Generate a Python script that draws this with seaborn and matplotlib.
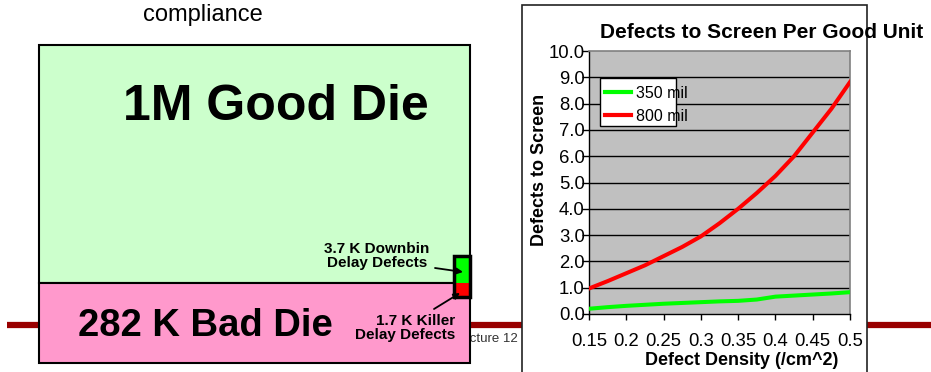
import numpy as np
import pandas as pd
import matplotlib
matplotlib.use("Agg")
import matplotlib.pyplot as plt
from matplotlib.patches import Rectangle
import seaborn as sns

# Defect density sweep and defects to screen per good unit, by die size
density = [0.15, 0.175, 0.2, 0.225, 0.25, 0.275, 0.3, 0.325, 0.35,
           0.375, 0.4, 0.425, 0.45, 0.475, 0.5]
d350 = [0.20, 0.26, 0.31, 0.35, 0.39, 0.42, 0.45, 0.48, 0.50,
        0.55, 0.66, 0.70, 0.74, 0.78, 0.83]
d800 = [0.97, 1.25, 1.55, 1.85, 2.20, 2.55, 2.95, 3.45, 4.00,
        4.60, 5.25, 6.00, 6.90, 7.80, 8.82]
series = ["350 mil", "800 mil"]
yticks = [0.0, 1.0, 2.0, 3.0, 4.0, 5.0, 6.0, 7.0, 8.0, 9.0, 10.0]
xticks = [0.15, 0.2, 0.25, 0.3, 0.35, 0.4, 0.45, 0.5]
xtick_labels = ["0.15", "0.2", "0.25", "0.3", "0.35", "0.4", "0.45", "0.5"]

plt.rcParams["font.family"] = ["Liberation Sans", "DejaVu Sans"]

W, H = 931, 372
fig = plt.figure(figsize=(W / 100, H / 100), dpi=100)
fig.patch.set_facecolor("white")

# Slide layer in pixel coordinates
bg = fig.add_axes([0, 0, 1, 1], zorder=0)
bg.set_xlim(0, W)
bg.set_ylim(H, 0)
bg.axis("off")

bg.plot([7, W], [325, 325], color="#990000", lw=4.5, solid_capstyle="butt", zorder=1)
bg.text(518, 339, "Lecture 12", ha="right", va="center", fontsize=9.5,
        color="#333333", zorder=1)

bg.add_patch(Rectangle((39, 45), 431, 238, fc="#CCFFCC", ec="black", lw=1.5, zorder=2))
bg.add_patch(Rectangle((39, 283), 431, 80, fc="#FF99CC", ec="black", lw=1.5, zorder=2))
bg.add_patch(Rectangle((454, 256), 16, 27, fc="#00FF00", ec="none", zorder=3))
bg.add_patch(Rectangle((454, 283), 16, 14, fc="#FF0000", ec="none", zorder=3))
bg.add_patch(Rectangle((454, 256), 16, 41, fc="none", ec="black", lw=2.5, zorder=4))

bg.text(203, 15, "compliance", ha="center", va="center", fontsize=17, zorder=5)
bg.text(276, 107, "1M Good Die", ha="center", va="center", fontsize=36,
        fontweight="bold", zorder=5)
bg.text(205, 326, "282 K Bad Die", ha="center", va="center", fontsize=27.5,
        fontweight="bold", zorder=5)
bg.text(377, 256, "3.7 K Downbin\nDelay Defects", ha="center", va="center",
        fontsize=11, fontweight="bold", linespacing=1.0, zorder=5)
bg.text(455, 328, "1.7 K Killer\nDelay Defects", ha="right", va="center",
        fontsize=11, fontweight="bold", linespacing=0.95, multialignment="right",
        zorder=5)
arrow = dict(arrowstyle="-|>", color="black", lw=1.3, mutation_scale=9,
             shrinkA=0, shrinkB=0)
bg.annotate("", xy=(463, 272), xytext=(435, 268), arrowprops=arrow, zorder=5)
bg.annotate("", xy=(460, 293), xytext=(434, 309), arrowprops=arrow, zorder=5)

# White chart panel
bg.add_patch(Rectangle((522, 5), 345, 400, fc="white", ec="#222222", lw=1.2, zorder=6))

# Chart
ax = fig.add_axes([589 / W, 1 - 314 / H, 261 / W, 263 / H], zorder=2)
df = pd.DataFrame({
    "density": density * 2,
    "defects": d350 + d800,
    "size": [series[0]] * len(density) + [series[1]] * len(density),
})
sns.lineplot(data=df, x="density", y="defects", hue="size",
             palette={"350 mil": "#00FF00", "800 mil": "#FF0000"},
             linewidth=2.9, ax=ax, legend=False, zorder=3)

ax.set_facecolor("#C0C0C0")
ax.set_xlim(0.15, 0.5)
ax.set_ylim(0, 10)
ax.set_yticks(yticks)
ax.set_yticklabels([f"{v:.1f}" for v in yticks])
ax.set_xticks(xticks)
ax.set_xticklabels(xtick_labels)
ax.tick_params(axis="y", direction="out", length=5, width=1, pad=-2, labelsize=13.3)
ax.tick_params(axis="x", direction="out", length=4, width=1, pad=10, labelsize=13.3)
for v in yticks[1:-1]:
    ax.axhline(v, color="black", lw=1, zorder=1)
for side in ("top", "right"):
    ax.spines[side].set_color("#808080")
    ax.spines[side].set_linewidth(1.2)
for side in ("left", "bottom"):
    ax.spines[side].set_color("black")
    ax.spines[side].set_linewidth(1)

ax.set_xlabel("Defect Density (/cm^2)", fontsize=13, fontweight="bold")
ax.xaxis.set_label_coords(0.586, -0.146)
ax.set_ylabel("Defects to Screen", fontsize=13, fontweight="bold")
ax.yaxis.set_label_coords(-0.158, 0.548)
ax.text(0.661, 1.07, "Defects to Screen Per Good Unit", transform=ax.transAxes,
        ha="center", va="center", fontsize=15, fontweight="bold", clip_on=False)

# Legend box with labels
ax.add_patch(Rectangle((0.042, 0.715), 0.291, 0.1825, transform=ax.transAxes,
                       fc="white", ec="black", lw=1, zorder=4))
handles = [plt.Line2D([], [], color="#00FF00", lw=3),
           plt.Line2D([], [], color="#FF0000", lw=3)]
leg = ax.legend(handles, series, loc="upper left", bbox_to_anchor=(0.061, 0.867),
                frameon=False, fontsize=11.5, borderpad=0, borderaxespad=0,
                handlelength=1.65, handletextpad=0.3, labelspacing=0.5)
leg.set_zorder(5)

fig.savefig("out.png", dpi=100)
